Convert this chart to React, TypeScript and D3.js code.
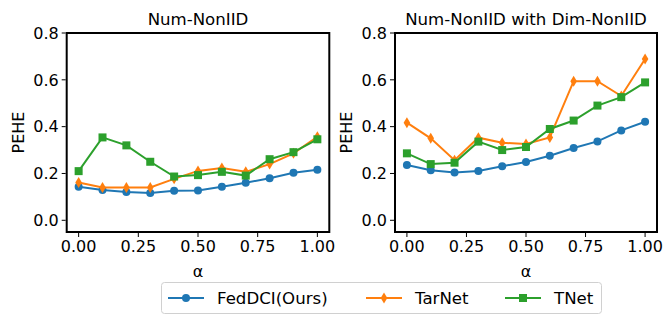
import React from "react";
import * as d3 from "d3";

const alphas = [0, 0.1, 0.2, 0.3, 0.4, 0.5, 0.6, 0.7, 0.8, 0.9, 1.0];
const seriesNames = ["FedDCI(Ours)", "TarNet", "TNet"];
const colors = ["#1f77b4", "#ff7f0e", "#2ca02c"];
const markers = ["circle", "diamond", "square"];

const leftFed = [0.143, 0.129, 0.121, 0.117, 0.126, 0.127, 0.143, 0.160, 0.180, 0.203, 0.216];
const leftTar = [0.161, 0.140, 0.140, 0.140, 0.177, 0.211, 0.223, 0.207, 0.240, 0.286, 0.357];
const leftTNet = [0.210, 0.354, 0.320, 0.250, 0.187, 0.193, 0.207, 0.191, 0.261, 0.291, 0.346];

const rightFed = [0.236, 0.214, 0.204, 0.211, 0.231, 0.249, 0.276, 0.309, 0.337, 0.384, 0.421];
const rightTar = [0.417, 0.350, 0.257, 0.353, 0.331, 0.326, 0.354, 0.594, 0.594, 0.531, 0.689];
const rightTNet = [0.286, 0.240, 0.246, 0.336, 0.300, 0.313, 0.390, 0.426, 0.490, 0.526, 0.589];

const titles = ["Num-NonIID", "Num-NonIID with Dim-NonIID"];
const xTicks = [0, 0.25, 0.5, 0.75, 1.0];
const yTicks = [0, 0.2, 0.4, 0.6, 0.8];

const FONT = "DejaVu Sans, sans-serif";
const FS = 16;
const FS_BIG = 16.6;

function Marker({ type, x, y, color }: { type: string; x: number; y: number; color: string }) {
  if (type === "circle") return <circle cx={x} cy={y} r={4} fill={color} />;
  if (type === "square") return <rect x={x - 4} y={y - 4} width={8} height={8} fill={color} />;
  return <path d={`M${x},${y - 5.5} L${x + 3.3},${y} L${x},${y + 5.5} L${x - 3.3},${y} Z`} fill={color} />;
}

function Panel({ left, right, title, data }: { left: number; right: number; title: string; data: number[][] }) {
  const top = 33;
  const bottom = 232;
  const x = d3.scaleLinear().domain([-0.05, 1.05]).range([left, right]);
  const y = d3.scaleLinear().domain([-0.05, 0.8]).range([bottom, top]);
  const line = d3
    .line<number>()
    .x((_, i) => x(alphas[i]))
    .y((v) => y(v));
  return (
    <g>
      {data.map((vals, si) => (
        <g key={si}>
          <path d={line(vals) || ""} fill="none" stroke={colors[si]} strokeWidth={2} />
          {vals.map((v, i) => (
            <Marker key={i} type={markers[si]} x={x(alphas[i])} y={y(v)} color={colors[si]} />
          ))}
        </g>
      ))}
      <rect x={left} y={top} width={right - left} height={bottom - top} fill="none" stroke="#000" strokeWidth={2} />
      {xTicks.map((t) => (
        <g key={t}>
          <line x1={x(t)} x2={x(t)} y1={bottom + 1} y2={bottom + 5} stroke="#000" strokeWidth={1} />
          <text x={x(t)} y={bottom + 20} textAnchor="middle" fontSize={FS} fontFamily={FONT}>
            {t.toFixed(2)}
          </text>
        </g>
      ))}
      {yTicks.map((t) => (
        <g key={t}>
          <line x1={left - 5} x2={left - 1} y1={y(t)} y2={y(t)} stroke="#000" strokeWidth={1} />
          <text x={left - 8} y={y(t)} dy="0.36em" textAnchor="end" fontSize={FS} fontFamily={FONT}>
            {t.toFixed(1)}
          </text>
        </g>
      ))}
      <text x={(left + right) / 2} y={top - 8} textAnchor="middle" fontSize={FS_BIG} fontFamily={FONT}>
        {title}
      </text>
      <text x={(left + right) / 2} y={bottom + 45} textAnchor="middle" fontSize={FS} fontFamily={FONT}>
        α
      </text>
      <text
        transform={`translate(${left - 43},${(top + bottom) / 2}) rotate(-90)`}
        textAnchor="middle"
        fontSize={FS}
        fontFamily={FONT}
      >
        PEHE
      </text>
    </g>
  );
}

export default function App() {
  const legendX = [168, 366, 505];
  return (
    <svg width={664} height={332} style={{ position: "absolute", left: 0, top: 0, background: "#fff" }}>
      <rect width={664} height={332} fill="#fff" />
      <Panel left={66.7} right={329.3} title={titles[0]} data={[leftFed, leftTar, leftTNet]} />
      <Panel left={395} right={657} title={titles[1]} data={[rightFed, rightTar, rightTNet]} />
      <rect x={161.5} y={282.5} width={440} height={31} rx={3} fill="#fff" stroke="#d0d0d0" strokeWidth={1} />
      {seriesNames.map((name, i) => (
        <g key={name}>
          <line x1={legendX[i]} x2={legendX[i] + 36} y1={298} y2={298} stroke={colors[i]} strokeWidth={2} />
          <Marker type={markers[i]} x={legendX[i] + 18} y={298} color={colors[i]} />
          <text x={legendX[i] + 49} y={298} dy="0.36em" fontSize={FS_BIG} fontFamily={FONT}>
            {name}
          </text>
        </g>
      ))}
    </svg>
  );
}
